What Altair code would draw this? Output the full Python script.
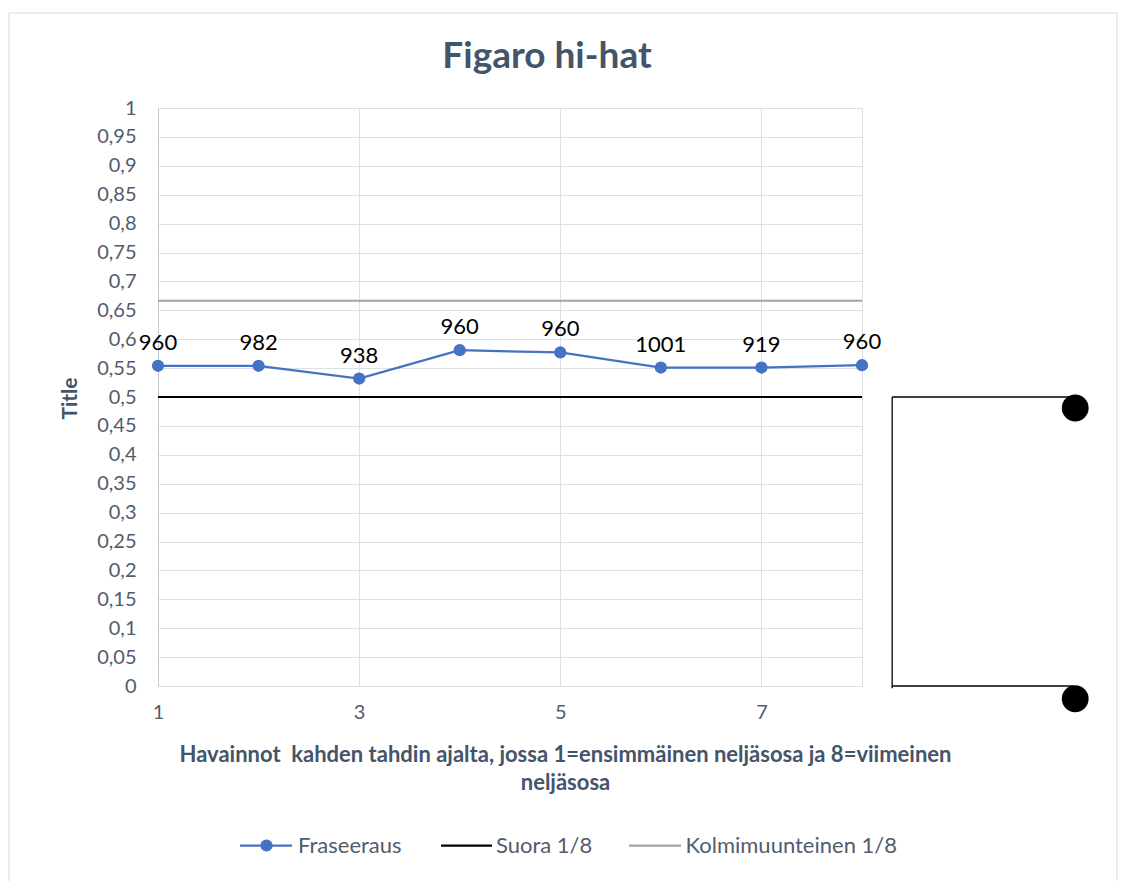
import altair as alt
import pandas as pd

# Observation index (quarter notes over two bars)
positions = [1, 2, 3, 4, 5, 6, 7, 8]
# Phrasing ratio per observation
fraseeraus = [0.554, 0.554, 0.532, 0.581, 0.577, 0.551, 0.551, 0.555]
# Value printed above each point
point_labels = ["960", "982", "938", "960", "960", "1001", "919", "960"]

# Reference levels
suora = 0.5
kolmimuunteinen = 0.6667

x_ticks = [1, 3, 5, 7]
y_ticks = [0, 0.05, 0.1, 0.15, 0.2, 0.25, 0.3, 0.35, 0.4, 0.45, 0.5,
           0.55, 0.6, 0.65, 0.7, 0.75, 0.8, 0.85, 0.9, 0.95, 1]

# Stray connector shape to the right of the plot (data coordinates)
bracket_x = [8.3, 8.3, 8.3]
bracket_x2 = [10.1, 8.3, 10.1]
bracket_y = [0.5, 0.5, 0.0]
bracket_y2 = [0.5, -0.004, 0.0]
dot_x = [10.12, 10.12]
dot_y = [0.481, -0.022]

FONT = "Lato"
BLUE = "#4472C4"
SLATE = "#44546A"
LABEL = "#525c6c"
GRID = "#dde0e6"

series = pd.DataFrame({"x": positions, "y": fraseeraus, "label": point_labels})
refs = pd.DataFrame({
    "x": [positions[0], positions[0]],
    "x2": [positions[-1], positions[-1]],
    "y": [suora, kolmimuunteinen],
    "name": ["Suora 1/8", "Kolmimuunteinen 1/8"],
})
bracket = pd.DataFrame({"x": bracket_x, "x2": bracket_x2, "y": bracket_y, "y2": bracket_y2})
dots = pd.DataFrame({"x": dot_x, "y": dot_y})

x_scale = alt.Scale(domain=[1, 8], nice=False, zero=False)
y_scale = alt.Scale(domain=[0, 1], nice=False)

x_axis = alt.Axis(
    values=x_ticks, ticks=False, labelFlush=False, labelPadding=16, labelFont=FONT,
    labelFontSize=20, labelColor=LABEL, grid=True, gridColor=GRID, domainColor=GRID,
    title=["Havainnot\u00a0 kahden tahdin ajalta, jossa 1=ensimmäinen neljäsosa ja 8=viimeinen",
           "neljäsosa"],
    titleFont=FONT, titleFontSize=22, titleFontWeight="bold", titleColor=SLATE,
    titleX=407, titleY=58, titleAlign="center", titleBaseline="top", titleLineHeight=28,
)
y_axis = alt.Axis(
    values=y_ticks, ticks=False, labelFlush=False, labelPadding=22, labelFont=FONT,
    labelFontSize=20, labelColor=LABEL, grid=True, gridColor=GRID, domainColor="#c3c9d5",
    labelExpr="replace(format(datum.value, '.2~f'), '.', ',')",
    title="Title", titleFont=FONT, titleFontSize=21, titleFontWeight="bold",
    titleColor=SLATE, titleX=-88, titleY=290, titleAngle=270,
    titleAlign="center", titleBaseline="middle",
)


def xy(chart):
    """Attach the shared x/y encodings (same axes on every layer so they merge)."""
    return chart.encode(
        x=alt.X("x:Q", scale=x_scale, axis=x_axis),
        y=alt.Y("y:Q", scale=y_scale, axis=y_axis),
    )


one_row = "datum.x == 1"

frame = alt.Chart(series).mark_rect(
    fillOpacity=0, stroke="#d9d9d9", strokeWidth=1
).encode(
    x=alt.value(-149), x2=alt.value(959), y=alt.value(-95), y2=alt.value(800)
).transform_filter(one_row)

heading = alt.Chart(series).mark_text(
    text="Figaro hi-hat", font=FONT, fontSize=37, fontWeight="bold", color=SLATE,
    align="center", baseline="alphabetic",
).encode(x=alt.value(389), y=alt.value(-40)).transform_filter(one_row)

ref_lines = xy(alt.Chart(refs).mark_rule(strokeWidth=2)).encode(
    x2="x2:Q",
    color=alt.Color("name:N", scale=alt.Scale(
        domain=["Suora 1/8", "Kolmimuunteinen 1/8"], range=["#000000", "#a5a5a5"]),
        legend=None),
)

line = xy(alt.Chart(series).mark_line(color=BLUE, strokeWidth=2.25))
points = xy(alt.Chart(series).mark_point(filled=True, color=BLUE, size=150, opacity=1))
labels = xy(alt.Chart(series).mark_text(
    dy=-23, font=FONT, fontSize=22, color="#000000"
)).encode(text="label:N")

bracket_rules = xy(alt.Chart(bracket).mark_rule(color="#000000", strokeWidth=1.3)).encode(
    x2="x2:Q", y2="y2:Q",
)
bracket_dots = xy(alt.Chart(dots).mark_point(
    filled=True, color="#000000", size=720, opacity=1
))

# Legend row below the axis title
LEG_Y = 737.5
legend_items = [
    ("Fraseeraus", BLUE, 82, 134, 140),
    ("Suora 1/8", "#000000", 283, 334, 338),
    ("Kolmimuunteinen 1/8", "#a5a5a5", 471, 523, 527.5),
]
legend_layers = []
for name, colour, lx1, lx2, tx in legend_items:
    legend_layers.append(
        alt.Chart(series).mark_rule(color=colour, strokeWidth=2.25)
        .encode(x=alt.value(lx1), x2=alt.value(lx2), y=alt.value(LEG_Y))
        .transform_filter(one_row)
    )
    legend_layers.append(
        alt.Chart(series).mark_text(
            text=name, align="left", baseline="middle", font=FONT,
            fontSize=22, color=LABEL)
        .encode(x=alt.value(tx), y=alt.value(LEG_Y))
        .transform_filter(one_row)
    )
legend_layers.append(
    alt.Chart(series).mark_point(filled=True, color=BLUE, size=150, opacity=1)
    .encode(x=alt.value(108.5), y=alt.value(LEG_Y))
    .transform_filter(one_row)
)

chart = alt.layer(
    frame, heading, ref_lines, line, points, labels, bracket_rules, bracket_dots,
    *legend_layers
).properties(
    width=704,
    height=578,
    autosize=alt.AutoSizeParams(type="none"),
    padding={"left": 158, "top": 108, "right": 260, "bottom": 195},
).configure_view(
    stroke="transparent", strokeWidth=0
).configure(background="white")

chart.save("out.html", embed_options={"renderer": "svg", "actions": False})
